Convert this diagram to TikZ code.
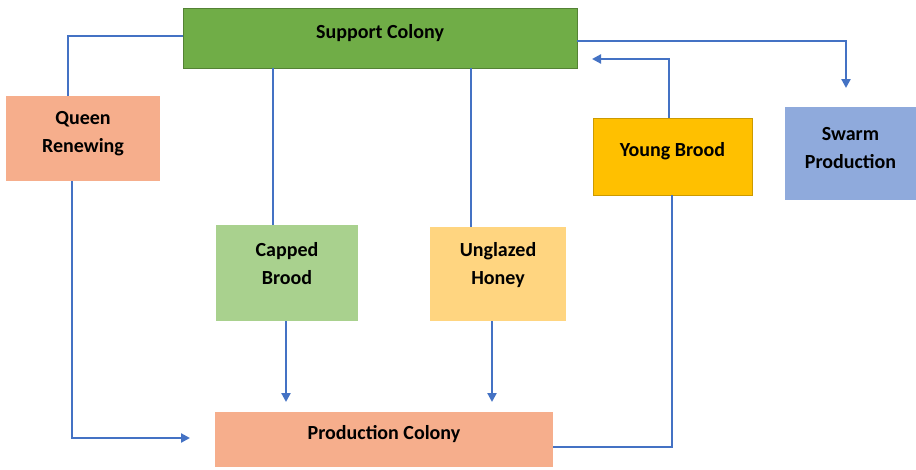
\documentclass[tikz,border=0pt]{standalone}
\usepackage{fontspec}
\setmainfont{Carlito}
\usetikzlibrary{arrows.meta}
\definecolor{lnblue}{HTML}{4472C4}
\definecolor{sgreen}{HTML}{70AD47}
\definecolor{sgreenb}{HTML}{548235}
\definecolor{salmon}{HTML}{F6AE8C}
\definecolor{lgreen}{HTML}{A9D18E}
\definecolor{lorange}{HTML}{FFD580}
\definecolor{gold}{HTML}{FFC000}
\definecolor{swblue}{HTML}{8FAADC}
\begin{document}
\begin{tikzpicture}[x=1pt,y=-1pt,
  box/.style={rectangle,inner sep=0pt},
  txt/.style={align=center,inner sep=0pt,yshift=5pt,font=\fontsize{20}{28}\selectfont\bfseries},
  conn/.style={draw=lnblue,line width=2.2pt},
  arr/.style={conn,-{Triangle[length=9pt,width=9pt]}}]
\useasboundingbox[fill=white] (0,0) rectangle (916,469);
% boxes
\node[box,fill=sgreen,draw=sgreenb,line width=0.8pt,minimum width=394pt,minimum height=60pt,label={[txt]center:Support Colony}] (support) at (380,38) {};
\node[box,fill=salmon,minimum width=154pt,minimum height=85pt,label={[txt]center:Queen\\Renewing}] (queen) at (83,138.5) {};
\node[box,fill=swblue,minimum width=131pt,minimum height=93pt,label={[txt]center:Swarm\\Production}] (swarm) at (850.5,153.5) {};
\node[box,fill=gold,draw=gold!80!black,line width=0.6pt,minimum width=159pt,minimum height=77pt,label={[txt]center:Young Brood}] (young) at (672.5,156.5) {};
\node[box,fill=lgreen,minimum width=142pt,minimum height=96pt,label={[txt,yshift=4pt]center:Capped\\Brood}] (capped) at (287,273) {};
\node[box,fill=lorange,minimum width=136pt,minimum height=94pt,label={[txt,yshift=4pt]center:Unglazed\\Honey}] (honey) at (498,274) {};
\node[box,fill=salmon,minimum width=338pt,minimum height=55pt,label={[txt]center:Production Colony}] (prod) at (384,439.5) {};
% free ends and bends
\coordinate (q1) at (68,36);
\coordinate (q2) at (72,438);
\coordinate (qend) at (190,438);
\coordinate (c0) at (273,100);
\coordinate (h0) at (471,100);
\coordinate (cend) at (286,402);
\coordinate (hend) at (492,402);
\coordinate (p1) at (672,447);
\coordinate (y1) at (669,59);
\coordinate (yend) at (592,59);
\coordinate (s1) at (846,41);
\coordinate (send) at (846,88);
% connectors
\draw[conn] (support.west |- q1) -- (q1) -- (q1 |- queen.north);
\draw[arr] (queen.south -| q2) -- (q2) -- (qend);
\draw[conn] (support.south -| c0) -- (capped.north -| c0);
\draw[conn] (support.south -| h0) -- (honey.north -| h0);
\draw[arr] (capped.south -| cend) -- (cend);
\draw[arr] (honey.south -| hend) -- (hend);
\draw[conn] (prod.east |- p1) -- (p1) -- (p1 |- young.south);
\draw[arr] (young.north -| y1) -- (y1) -- (yend);
\draw[arr] (support.east |- s1) -- (s1) -- (send);
\end{tikzpicture}
\end{document}
